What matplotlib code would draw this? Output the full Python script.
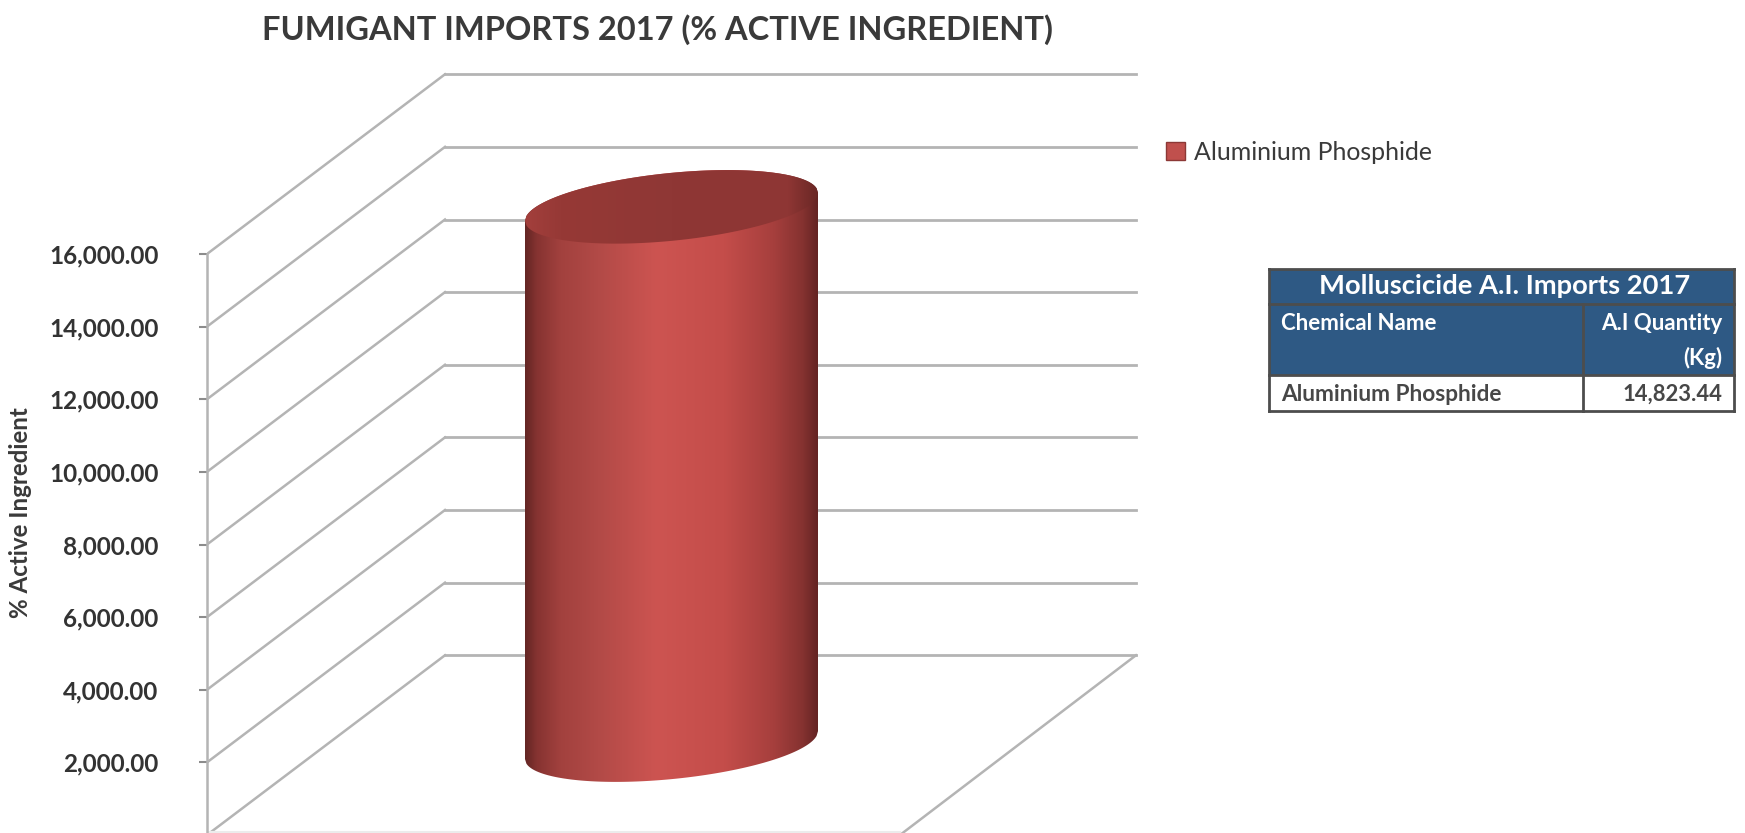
import numpy as np
import matplotlib.pyplot as plt
from matplotlib.colors import LinearSegmentedColormap
from matplotlib.patches import Patch, Polygon, Rectangle

plt.rcParams['font.family'] = ['Lato', 'DejaVu Sans']

W, H = 1745, 833

# data
chemicals = ['Aluminium Phosphide']
quantities = [14823.44]
y_ticks = [0, 2000, 4000, 6000, 8000, 10000, 12000, 14000, 16000]
table_title = 'Molluscicide A.I. Imports 2017'
table_head = ['Chemical Name', 'A.I Quantity', '(Kg)']
table_row = ['Aluminium Phosphide', '14,823.44']

# picture geometry, pixels
px_per_unit = 581 / 16000
axis_x = 207
back_x = 445
right_x = 1136
floor_right_x = 900
depth = 4950  # how far the back wall is raised, in value units
zero_px = 835

grid_color = '#b4b4b4'
dark_text = '#3a3a3a'

body_cmap = LinearSegmentedColormap.from_list('body', [
    (0.00, '#642624'), (0.04, '#863331'), (0.12, '#a2413e'), (0.25, '#b24a47'),
    (0.45, '#cd5451'), (0.68, '#c44d4a'), (0.85, '#a63f3d'), (0.95, '#853230'),
    (1.00, '#642423')])
top_cmap = LinearSegmentedColormap.from_list('top', [
    (0.00, '#a33f3c'), (0.12, '#963936'), (0.5, '#8f3735'), (0.9, '#8e3634'),
    (1.00, '#6a2725')])

fig = plt.figure(figsize=(W / 100, H / 100), dpi=100)
fig.patch.set_facecolor('white')

# main axes: x stays in pixels, y is the value scale
ax = fig.add_axes([axis_x / W, 0, 1 - axis_x / W, 1])
y_low = (zero_px - H) / px_per_unit
y_high = zero_px / px_per_unit

# walls
for v in y_ticks:
    ax.plot([axis_x, back_x], [v, v + depth], color=grid_color, lw=1.8, zorder=1)
    ax.plot([back_x, right_x], [v + depth, v + depth], color=grid_color, lw=2.0, zorder=1)
ax.plot([right_x, floor_right_x], [depth, 0], color=grid_color, lw=1.8, zorder=1)
ax.plot([axis_x, floor_right_x], [y_low + 30, y_low + 30], color='#ececec', lw=1.5, zorder=1)

# cylinder
cx, half_w = 671.5, 146.5
base = depth / 2
shear = 14 / half_w / px_per_unit
b = 34 / px_per_unit
xs = np.linspace(cx - half_w, cx + half_w, 200)
arc = b * np.sqrt(np.clip(1 - ((xs - cx) / half_w) ** 2, 0, 1))
tilt = shear * (xs - cx)
top = base + quantities[0]
body_poly = np.vstack([
    np.column_stack([xs, top + tilt + arc]),
    np.column_stack([xs[::-1], (base + tilt - arc)[::-1]]),
])
top_poly = np.vstack([
    np.column_stack([xs, top + tilt + arc]),
    np.column_stack([xs[::-1], (top + tilt - arc)[::-1]]),
])
grad = np.linspace(0, 1, 256).reshape(1, -1)
extent = [cx - half_w, cx + half_w, base - 2 * b, top + 2 * b]
body_img = ax.imshow(grad, cmap=body_cmap, extent=extent, aspect='auto', zorder=3)
body_img.set_clip_path(Polygon(body_poly, transform=ax.transData))
top_img = ax.imshow(grad, cmap=top_cmap, extent=extent, aspect='auto', zorder=4)
top_img.set_clip_path(Polygon(top_poly, transform=ax.transData))

ax.set_xlim(axis_x, W)
ax.set_ylim(y_low, y_high)
ax.patch.set_alpha(0)

for side in ['top', 'right', 'bottom']:
    ax.spines[side].set_visible(False)
ax.spines['left'].set_color(grid_color)
ax.spines['left'].set_linewidth(1.8)
ax.spines['left'].set_bounds(y_low, 16000)
ax.set_xticks([])
ax.set_yticks(y_ticks[1:])
ax.set_yticklabels([f'{v:,.2f}' for v in y_ticks[1:]], fontsize=17.5, fontweight='bold',
                   color='#333333')
ax.tick_params(axis='y', length=6, width=1.5, color='#8c8c8c', pad=29)

ax.legend(handles=[Patch(facecolor='#c0504d', edgecolor='#8c3836', label=chemicals[0])],
          loc='center left', bbox_to_anchor=(1166 / W, 1 - 152 / H),
          bbox_transform=fig.transFigure, frameon=False, fontsize=17.9,
          handlelength=0.76, handleheight=0.76, handletextpad=0.36, borderaxespad=0,
          borderpad=0, labelcolor=dark_text)

# overlay in pixels for title, axis label and the small table
over = fig.add_axes([0, 0, 1, 1])
over.set_xlim(0, W)
over.set_ylim(H, 0)
over.axis('off')

over.text(658, 30, 'FUMIGANT IMPORTS 2017 (% ACTIVE INGREDIENT)', ha='center', va='center',
          fontsize=23.5, fontweight='bold', color=dark_text)
over.text(21, 513, '% Active Ingredient', rotation=90, ha='center', va='center',
          fontsize=17.4, fontweight='bold', color=dark_text)

t_left, t_split, t_right = 1269, 1583, 1734
t_rows = [269, 304, 375, 411]
blue = '#2e5984'
edge = '#4d4d4d'
over.add_patch(Rectangle((t_left, t_rows[0]), t_right - t_left, t_rows[2] - t_rows[0],
                         facecolor=blue, edgecolor='none'))
for y in t_rows:
    over.plot([t_left, t_right], [y, y], color=edge, lw=2)
for x in [t_left, t_right]:
    over.plot([x, x], [t_rows[0], t_rows[-1]], color=edge, lw=2)
over.plot([t_split, t_split], [t_rows[1], t_rows[-1]], color=edge, lw=2)

row_text = '#474747'
over.text((t_left + t_right) / 2 + 3, 286, table_title, ha='center', va='center', fontsize=19.7,
          fontweight='bold', color='white')
over.text(1281, 323, table_head[0], ha='left', va='center', fontsize=16,
          fontweight='bold', color='white')
over.text(1722, 323, table_head[1], ha='right', va='center', fontsize=16,
          fontweight='bold', color='white')
over.text(1722, 358, table_head[2], ha='right', va='center', fontsize=16,
          fontweight='bold', color='white')
over.text(1281, 394, table_row[0], ha='left', va='center', fontsize=16.3,
          fontweight='bold', color=row_text)
over.text(1722, 394, table_row[1], ha='right', va='center', fontsize=15.8,
          fontweight='bold', color=row_text)

fig.savefig('out.png', dpi=100)
